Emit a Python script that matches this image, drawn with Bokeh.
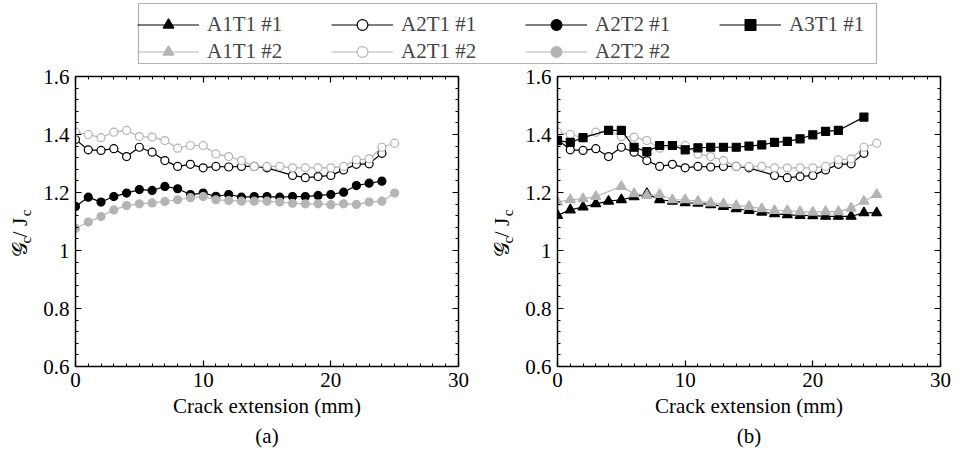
import math
from bokeh.plotting import figure
from bokeh.models import (LinearAxis, SingleIntervalTicker, FixedTicker, CustomJSTickFormatter, Range1d,
                          Label, Legend, LegendItem, BoxAnnotation)
from bokeh.layouts import column, row
from bokeh.embed import file_html
from bokeh.resources import INLINE

# ---------------- data ----------------
a1t1_1_x = list(range(0, 26))
a1t1_1_y = [1.121, 1.140, 1.150, 1.161, 1.170, 1.175, 1.185, 1.196, 1.175, 1.170, 1.165, 1.163, 1.158,
            1.152, 1.144, 1.138, 1.132, 1.127, 1.123, 1.121, 1.120, 1.118, 1.118, 1.118, 1.130, 1.130]
a1t1_2_x = [0, 1, 2, 3] + list(range(5, 26))
a1t1_2_y = [1.167, 1.175, 1.178, 1.186, 1.221, 1.196, 1.190, 1.193, 1.175, 1.175, 1.170, 1.164, 1.161,
            1.155, 1.152, 1.144, 1.138, 1.138, 1.134, 1.132, 1.134, 1.134, 1.146, 1.170, 1.193]
a2t1_1_x = list(range(0, 16)) + list(range(17, 25))
a2t1_1_y = [1.383, 1.347, 1.345, 1.351, 1.324, 1.356, 1.339, 1.310, 1.290, 1.297, 1.285, 1.290, 1.288,
            1.290, 1.290, 1.285, 1.259, 1.251, 1.255, 1.259, 1.278, 1.297, 1.299, 1.335]
a2t1_2_x = list(range(0, 26))
a2t1_2_y = [1.408, 1.400, 1.389, 1.408, 1.414, 1.393, 1.391, 1.379, 1.353, 1.362, 1.362, 1.333, 1.324,
            1.310, 1.290, 1.290, 1.290, 1.285, 1.285, 1.285, 1.285, 1.290, 1.313, 1.316, 1.356, 1.370]
a2t2_1_x = list(range(0, 25))
a2t2_1_y = [1.152, 1.184, 1.167, 1.186, 1.198, 1.210, 1.207, 1.221, 1.213, 1.193, 1.198, 1.187, 1.193,
            1.184, 1.186, 1.186, 1.184, 1.186, 1.186, 1.190, 1.193, 1.201, 1.224, 1.232, 1.239]
a2t2_2_x = list(range(0, 26))
a2t2_2_y = [1.076, 1.098, 1.117, 1.140, 1.155, 1.161, 1.164, 1.169, 1.175, 1.182, 1.186, 1.175, 1.172,
            1.170, 1.170, 1.170, 1.167, 1.163, 1.161, 1.161, 1.158, 1.161, 1.159, 1.167, 1.170, 1.198]
a3t1_1_x = [0, 1, 2] + list(range(4, 23)) + [24]
a3t1_1_y = [1.379, 1.373, 1.389, 1.414, 1.414, 1.356, 1.341, 1.362, 1.362, 1.347, 1.354, 1.356, 1.356,
            1.356, 1.360, 1.364, 1.373, 1.376, 1.385, 1.399, 1.411, 1.414, 1.460]

x_label = "Crack extension (mm)"
panel_labels = ["(a)", "(b)"]

BLACK = "#000000"
GREY = "#b4b4b4"
FONT = "Liberation Serif"

# series: name -> (x, y, color, marker, filled, size)
series = {
    "A1T1 #1": (a1t1_1_x, a1t1_1_y, BLACK, "triangle", True, 10),
    "A1T1 #2": (a1t1_2_x, a1t1_2_y, GREY, "triangle", True, 10),
    "A2T1 #1": (a2t1_1_x, a2t1_1_y, BLACK, "circle", False, 8),
    "A2T1 #2": (a2t1_2_x, a2t1_2_y, GREY, "circle", False, 8),
    "A2T2 #1": (a2t2_1_x, a2t2_1_y, BLACK, "circle", True, 8),
    "A2T2 #2": (a2t2_2_x, a2t2_2_y, GREY, "circle", True, 8),
    "A3T1 #1": (a3t1_1_x, a3t1_1_y, BLACK, "square", True, 8),
}

PLOT_H = 395
TOP_B = 12
FRAME_H = 290
BOT_B = PLOT_H - TOP_B - FRAME_H


def add_series(fig, name, x_range_name="default"):
    x, y, color, marker, filled, size = series[name]
    lr = fig.line(x, y, line_color=color, line_width=1.2, x_range_name=x_range_name)
    sr = fig.scatter(x, y, marker=marker, size=size, line_color=color, line_width=1.2,
                     fill_color=color if filled else "white", x_range_name=x_range_name)
    return [lr, sr]


def style_axis(ax, labels=True):
    ax.axis_line_width = 1.5
    ax.axis_line_color = "black"
    ax.major_tick_in = 6
    ax.major_tick_out = 0
    ax.minor_tick_in = 3
    ax.minor_tick_out = 0
    ax.major_tick_line_width = 1.2
    ax.minor_tick_line_width = 1
    ax.major_tick_line_color = "black"
    ax.minor_tick_line_color = "black"
    ax.major_label_text_font = FONT
    ax.axis_label_text_font = FONT
    ax.axis_label_text_font_size = "21px"
    ax.axis_label_text_font_style = "normal"
    ax.axis_label_text_color = "black"
    if labels:
        ax.major_label_text_color = "black"
        ax.major_label_text_font_size = "21px"
        ax.major_label_standoff = 6
    else:
        ax.major_label_text_color = None
        ax.major_label_text_font_size = "1px"
        ax.major_label_standoff = 0


fmt = CustomJSTickFormatter(code="return (Math.round(tick*10)/10).toString();")


def make_panel(names, panel_label, left_border, right_border):
    p = figure(x_range=Range1d(0, 30), y_range=Range1d(0.6, 1.6),
               frame_width=383, frame_height=FRAME_H,
               min_border_left=left_border, min_border_right=right_border,
               min_border_top=TOP_B, min_border_bottom=BOT_B,
               output_backend="svg", toolbar_location=None)
    p.outline_line_color = None
    p.xgrid.visible = False
    p.ygrid.visible = False
    p.xaxis.ticker = SingleIntervalTicker(interval=10, num_minor_ticks=10)
    p.yaxis.ticker = SingleIntervalTicker(interval=0.2, num_minor_ticks=5)
    p.xaxis.formatter = fmt
    p.yaxis.formatter = fmt
    for ax in p.xaxis + p.yaxis:
        style_axis(ax)
    p.xaxis.axis_label = x_label
    p.xaxis.axis_label_standoff = 4
    top = LinearAxis(ticker=SingleIntervalTicker(interval=10, num_minor_ticks=10))
    right = LinearAxis(ticker=SingleIntervalTicker(interval=0.2, num_minor_ticks=5))
    style_axis(top, labels=False)
    style_axis(right, labels=False)
    p.add_layout(top, "above")
    p.add_layout(right, "right")
    sub = LinearAxis(ticker=FixedTicker(ticks=[]))
    style_axis(sub, labels=False)
    sub.axis_line_color = None
    sub.major_tick_line_color = None
    sub.minor_tick_line_color = None
    sub.axis_label = panel_label
    sub.axis_label_standoff = 3
    p.add_layout(sub, "below")
    for n in names:
        add_series(p, n)
    return p


def make_ylabel():
    # narrow strip holding the rotated y-axis title  G_c / J_c
    f = figure(width=35, height=PLOT_H, x_range=Range1d(0, 35), y_range=Range1d(0.6, 1.6),
               min_border_left=0, min_border_right=0, min_border_top=TOP_B, min_border_bottom=BOT_B,
               output_backend="svg", toolbar_location=None,
               x_axis_location=None, y_axis_location=None)
    f.outline_line_color = None
    f.xgrid.visible = False
    f.ygrid.visible = False
    ang = math.pi / 2
    parts = [("\U0001D4A2", 0.976, 19, "21px"), ("c", 1.024, 25, "15px"),
             (" / J", 1.046, 19, "21px"), ("c", 1.118, 25, "15px")]
    for txt, yy, xx, fs in parts:
        f.add_layout(Label(x=xx, y=yy, text=txt, angle=ang, text_font=FONT, text_font_size=fs,
                           text_align="left", text_baseline="middle", text_color="black"))
    return f


p1 = make_panel(["A2T1 #1", "A2T1 #2", "A2T2 #1", "A2T2 #2"], panel_labels[0], 40, 24)
p2 = make_panel(["A1T1 #1", "A1T1 #2", "A2T1 #1", "A2T1 #2", "A3T1 #1"], panel_labels[1], 40, 19)

# legend strip (pixel-mapped ranges; legend sample renderers live on an off-screen range)
lf = figure(width=959, height=64, x_range=Range1d(0, 959), y_range=Range1d(64, 0),
            min_border=0, output_backend="svg", toolbar_location=None,
            x_axis_location=None, y_axis_location=None)
lf.extra_x_ranges = {"off": Range1d(-20, -19)}
lf.outline_line_color = None
lf.xgrid.visible = False
lf.ygrid.visible = False
order = ["A1T1 #1", "A2T1 #1", "A2T2 #1", "A3T1 #1", "A1T1 #2", "A2T1 #2", "A2T2 #2"]
items = [LegendItem(label=n, renderers=add_series(lf, n, "off")) for n in order]
lf.add_layout(BoxAnnotation(left=138, right=876, top=3, bottom=63, fill_color="white", fill_alpha=1,
                            line_color="black", line_width=1.2, level="underlay"))
leg = Legend(items=items, orientation="horizontal", ncols=4, location=(137, -1),
             label_text_font=FONT, label_text_font_size="21px",
             glyph_width=62, glyph_height=27, label_height=27, label_width=124,
             label_standoff=8, spacing=0, padding=4, margin=0,
             border_line_color=None, background_fill_alpha=0)
lf.add_layout(leg)

layout = column(lf, row(make_ylabel(), p1, make_ylabel(), p2))
open("out.html", "w").write(file_html(layout, INLINE))
